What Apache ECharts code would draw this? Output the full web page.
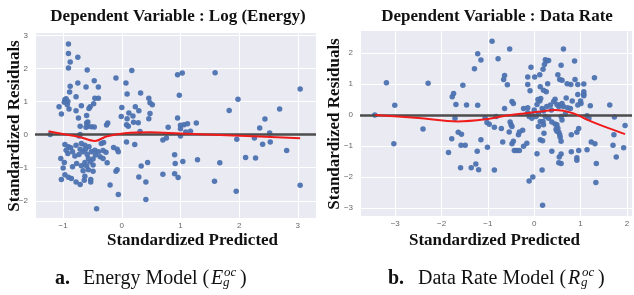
<!DOCTYPE html>
<html>
<head>
<meta charset="utf-8">
<script src="https://cdn.jsdelivr.net/npm/echarts@6/dist/echarts.min.js"></script>
<style>
  html, body { margin: 0; padding: 0; background: #fff; }
  #chart { width: 634px; height: 295px; }
</style>
</head>
<body>
<div id="chart"></div>
<script>
// colours
const PANEL_BG = '#EAEAF2';
const DOT_COLOR = '#4C72B0';
const LOWESS_COLOR = '#f01c1c';
const ZERO_COLOR = '#4d4d4d';
const SERIF = '"Liberation Serif", "Times New Roman", serif';

// a. Energy model : standardized predicted vs standardized residuals
const energyPoints = [
  [-0.91, 2.74], [-0.91, 2.45], [-0.75, 2.34], [-0.88, 2.19], [-0.91, 2.01], [-0.59, 1.95],
  [-0.88, 1.46], [-0.75, 1.56], [-0.47, 1.63], [-0.61, 1.44], [-0.40, 1.44], [-0.89, 1.29],
  [-0.78, 1.14], [-0.46, 1.10], [-0.40, 1.10], [-0.97, 1.05], [-0.95, 1.08], [-0.92, 1.00],
  [-0.98, 0.98], [-1.07, 0.84], [-0.93, 0.90], [-0.90, 0.77], [-1.03, 0.62], [-0.78, 0.72],
  [-0.69, 0.87], [-0.54, 0.84], [-0.56, 0.79], [-0.48, 0.93], [-0.74, 0.50], [-0.60, 0.58],
  [-0.58, 0.38], [-0.71, 0.25], [-0.60, 0.35], [-0.58, 0.25], [-0.61, 0.22], [-0.52, 0.24],
  [-0.47, 0.23], [-0.71, 0.00], [-1.22, 0.00], [-0.73, -0.04], [-0.26, 0.29], [-0.24, 0.35],
  [-0.10, 1.71], [0.07, 1.56], [0.17, 1.94], [0.09, 1.23], [0.32, 1.26], [0.00, 0.82],
  [0.23, 0.84], [0.46, 1.10], [0.48, 0.96], [0.52, 0.90], [0.29, 0.72], [0.48, 0.64],
  [0.46, 0.48], [-0.01, 0.55], [0.09, 0.48], [0.19, 0.56], [0.12, 0.65], [0.08, 0.30],
  [0.11, 0.25], [0.20, 0.37], [0.28, 0.36], [0.31, 0.09],
  [0.95, 1.81], [1.03, 1.86], [0.98, 1.19], [1.59, 1.87], [1.98, 1.07], [1.83, 0.73],
  [2.69, 0.77], [3.04, 1.38], [2.44, 0.47], [0.95, 0.50], [2.35, 0.20], [2.52, 0.05],
  [0.79, 0.22], [1.00, 0.28], [1.06, 0.30], [1.12, 0.33], [1.00, 0.18], [1.27, 0.35],
  [1.09, 0.08], [1.17, 0.10], [1.00, -0.04], [0.70, -0.16], [0.76, -0.10], [1.96, -0.14],
  [2.26, -0.10], [2.40, -0.29], [2.53, -0.22], [2.81, -0.48], [0.90, -0.61], [0.91, -0.87],
  [1.04, -0.81], [1.29, -0.76], [1.67, -0.85], [2.11, -0.69], [2.28, -0.71], [0.44, -0.84],
  [0.70, -1.20], [0.90, -1.18], [0.96, -1.30], [1.58, -1.41], [0.41, -1.43], [1.95, -1.71],
  [3.04, -1.53], [0.41, -1.96],
  [-0.97, -0.30], [-0.87, -0.40], [-0.95, -0.47], [-0.91, -0.37], [-0.78, -0.32], [-0.69, -0.27],
  [-0.63, -0.32], [-0.56, -0.37], [-0.71, -0.44], [-0.66, -0.52], [-0.73, -0.60], [-0.59, -0.60],
  [-0.52, -0.52], [-0.46, -0.47], [-0.40, -0.52], [-0.57, -0.72], [-0.49, -0.74], [-0.35, -0.27],
  [-0.31, -0.24], [-0.37, -0.67], [-1.04, -0.72], [-0.98, -0.84], [-1.00, -1.01], [-0.77, -0.87],
  [-0.69, -0.94], [-0.63, -0.84], [-0.54, -0.82], [-0.49, -0.92], [-0.57, -1.06], [-0.66, -1.09],
  [-0.49, -1.11], [-0.97, -1.21], [-0.91, -1.29], [-1.03, -1.36], [-0.86, -1.33], [-0.78, -1.43],
  [-0.71, -1.51], [-0.53, -1.36], [-0.53, -1.43], [-0.63, -1.26], [-0.32, -0.72], [-0.25, -0.85],
  [-0.14, -0.39], [-0.08, -0.44], [-0.06, -0.52], [-0.10, -1.11], [-0.08, -1.06], [-0.20, -1.52],
  [-0.06, -1.81], [-0.43, -2.24], [0.08, -0.22], [0.22, -0.30], [0.29, -1.28], [0.33, -0.95],
  [-0.32, -0.48], [-0.27, -0.53], [-0.84, -0.52], [-0.62, -0.45], [-0.80, -0.65], [-0.45, -0.62],
  [-0.92, -0.57], [-0.60, -0.95], [-0.84, -0.97], [-0.64, -1.38]
];
const energyLowess = [
  [-1.25, 0.10], [-1.00, 0.02], [-0.72, -0.07], [-0.46, -0.19], [-0.25, -0.05], [0.05, 0.04],
  [0.48, 0.07], [1.00, 0.03], [1.90, -0.03], [3.04, -0.11]
];

// b. Data rate model
const ratePoints = [
  [-3.44, 0.00], [-3.19, 1.04], [-3.01, 0.31], [-3.03, -0.93], [-2.29, 1.02], [-2.40, -0.45],
  [-1.85, -1.21], [-1.78, -0.77], [-1.77, 0.59], [-1.74, 0.69], [-1.69, 0.34], [-1.71, -0.11],
  [-1.54, 0.96], [-1.64, -0.56], [-1.57, -0.62], [-1.58, -0.98], [-1.49, -0.98], [-1.46, 0.32],
  [-1.59, -1.70], [-1.36, -1.70], [-1.26, -1.58], [-1.20, -1.77], [-1.23, -1.17], [-1.15, -0.80],
  [-1.22, 0.31], [-1.29, 1.49], [-1.22, 1.97], [-1.15, 1.77], [-1.01, -1.04], [-1.06, -0.09],
  [-1.02, -0.24], [-0.97, -0.30], [-0.91, 2.38], [-0.86, -0.40], [-0.86, -1.78],
  [-0.78, 1.81], [-0.53, 2.13], [-0.64, 1.27], [-0.66, 1.14], [-0.58, 0.97], [-0.48, 0.43],
  [-0.45, 0.37], [-0.64, 0.21], [-0.82, -0.05], [-0.71, -0.44], [-0.52, -0.23], [-0.50, -0.32],
  [-0.48, -0.37], [-0.54, -0.55], [-0.68, -0.87], [-0.48, -0.93], [-0.45, -0.85], [-0.43, -1.15],
  [-0.38, -1.15], [-0.32, -1.15], [-0.34, -0.64], [-0.32, -0.55], [-0.25, -0.49], [-0.23, -1.01],
  [-0.16, -0.91], [-0.11, -2.13], [-0.03, -2.00], [0.17, -1.78], [0.18, -2.91], [0.06, -1.25],
  [-0.14, 1.22], [-0.14, 0.98], [-0.09, 0.78], [0.01, 1.22], [-0.07, 1.54], [0.12, 1.30],
  [0.13, 0.91], [0.19, 1.47], [0.22, 1.63], [0.24, 1.78], [0.27, 1.74], [0.31, 1.76],
  [0.29, 1.01], [0.26, 0.75], [0.20, 0.80], [0.27, 0.27], [0.12, 0.45], [0.14, 0.53],
  [0.08, 0.50], [0.06, 0.34], [0.00, 0.16], [-0.14, 0.23],
  [0.63, 2.13], [0.87, 1.74], [0.58, 1.60], [0.51, 1.30], [0.55, 1.14], [0.60, 1.12],
  [0.71, 1.01], [0.79, 0.98], [0.88, 1.14], [0.94, 0.98], [1.07, 1.00], [1.07, 0.75],
  [1.07, 0.67], [1.07, 0.62], [0.94, 0.66], [1.00, 0.45], [1.01, 0.37], [0.94, 0.32],
  [0.82, 0.45], [0.69, 0.55], [0.60, 0.37], [0.56, 0.32], [0.45, 0.51], [0.42, 0.43],
  [0.35, 0.32], [0.37, 0.16], [0.49, 0.34], [0.53, 0.27], [0.63, 0.27], [0.72, 0.23],
  [0.78, 0.21], [1.21, 0.30], [1.30, 1.20], [1.63, 0.32], [1.73, -0.07], [1.96, -0.34],
  [1.72, -0.64], [1.70, -0.98], [1.77, -1.36], [1.93, -1.06], [1.14, -0.03], [1.18, -0.11],
  [1.23, -0.87], [1.31, -0.93], [1.34, -1.57], [1.33, -2.18], [1.14, -1.12], [0.96, -1.15],
  [0.80, -1.19], [0.92, -1.38], [0.92, -1.46], [0.80, -0.64], [0.92, -0.56], [0.96, -0.44],
  [0.38, -1.17], [0.58, -1.26], [0.54, -1.36], [0.53, -1.54], [0.58, -1.57], [0.13, -0.80],
  [0.18, -0.83], [0.21, -0.59], [0.09, -0.37], [0.20, -0.32], [0.13, -0.21], [0.38, -0.23],
  [0.45, -0.29], [0.49, -0.32], [0.51, -0.43], [0.47, -0.46], [0.49, -0.53], [0.53, -0.56],
  [0.55, -0.64], [0.56, -0.72], [0.58, -0.85], [0.60, -0.16], [0.58, -0.05], [0.67, 0.02],
  [0.31, -0.11], [0.24, -0.05], [0.19, -0.21], [-0.05, -0.11], [-0.14, 0.07], [-0.11, -0.05],
  [0.04, -0.05], [0.09, 0.05], [-0.05, 0.02], [0.17, 0.21], [0.20, 0.13], [-0.23, 0.21]
];
const rateLowess = [
  [-3.43, 0.00], [-2.50, -0.10], [-1.65, -0.21], [-1.05, -0.14], [-0.60, -0.02], [-0.23, 0.05],
  [0.15, 0.11], [0.45, 0.16], [0.85, 0.05], [1.15, -0.16], [1.50, -0.37], [1.96, -0.62]
];

// axis ranges
const energyXRange = [-1.48, 3.31];
const energyYRange = [-2.52, 3.10];
const rateXRange = [-3.76, 2.11];
const rateYRange = [-3.26, 2.74];

const titles = ['Dependent Variable : Log (Energy)', 'Dependent Variable : Data Rate'];
const xName = 'Standardized Predicted';
const yName = 'Standardized Residuals';

const tickFmt = (v) => Number.isInteger(v) ? String(v).replace('-', '\u2212') : '';

const makeX = (gridIndex, range) => ({
  type: 'value',
  gridIndex,
  min: range[0],
  max: range[1],
  axisLine: { show: false },
  axisTick: { show: false },
  axisLabel: {
    color: '#666', fontSize: 8, margin: 4, fontFamily: 'Liberation Sans',
    showMinLabel: false, showMaxLabel: false, formatter: tickFmt
  },
  splitLine: { show: true, lineStyle: { color: '#fff', width: 1 } }
});

const makeY = (gridIndex, range) => ({
  type: 'value',
  gridIndex,
  min: range[0],
  max: range[1],
  axisLine: { show: false },
  axisTick: { show: false },
  axisLabel: {
    color: '#666', fontSize: 8, margin: 7, fontFamily: 'Liberation Sans',
    showMinLabel: false, showMaxLabel: false, formatter: tickFmt
  },
  splitLine: { show: true, lineStyle: { color: '#fff', width: 1 } }
});

const scatter = (idx, data) => ({
  type: 'scatter',
  xAxisIndex: idx,
  yAxisIndex: idx,
  data,
  symbolSize: 5.5,
  itemStyle: { color: DOT_COLOR, opacity: 0.95 },
  z: 3,
  markLine: {
    silent: true,
    symbol: ['none', 'none'],
    label: { show: false },
    lineStyle: { color: ZERO_COLOR, width: 2.5, type: 'solid' },
    data: [{ yAxis: 0 }]
  }
});

const lowess = (idx, data) => ({
  type: 'line',
  xAxisIndex: idx,
  yAxisIndex: idx,
  data,
  smooth: 0.35,
  symbol: 'none',
  lineStyle: { color: LOWESS_COLOR, width: 2 },
  z: 5
});

const txt = (text, x, y, font) => ({
  type: 'text',
  x, y,
  silent: true,
  style: { text, font, fill: '#111', align: 'left', verticalAlign: 'middle' }
});

const centered = (text, x, y, font, rotation) => ({
  type: 'text',
  x, y,
  rotation: rotation || 0,
  silent: true,
  style: { text, font, fill: '#111', align: 'center', verticalAlign: 'middle' }
});

const chart = echarts.init(document.getElementById('chart'));

chart.setOption({
  backgroundColor: '#fff',
  animation: false,
  grid: [
    { left: 35, top: 32, width: 281, height: 186, show: true, backgroundColor: PANEL_BG, borderWidth: 0 },
    { left: 360, top: 30, width: 272, height: 186, show: true, backgroundColor: PANEL_BG, borderWidth: 0 }
  ],
  xAxis: [makeX(0, energyXRange), makeX(1, rateXRange)],
  yAxis: [makeY(0, energyYRange), makeY(1, rateYRange)],
  series: [
    scatter(0, energyPoints),
    lowess(0, energyLowess),
    scatter(1, ratePoints),
    lowess(1, rateLowess)
  ],
  graphic: [
    // panel titles
    centered(titles[0], 178, 16.5, 'bold 17px ' + SERIF),
    centered(titles[1], 497, 16.5, 'bold 17px ' + SERIF),
    // axis names
    centered(yName, 15, 126, 'bold 17px ' + SERIF, Math.PI / 2),
    centered(yName, 335, 124, 'bold 17px ' + SERIF, Math.PI / 2),
    centered(xName, 192.5, 241, 'bold 17px ' + SERIF),
    centered(xName, 494.5, 241, 'bold 17px ' + SERIF),
    // caption a
    txt('a.', 55, 278.5, 'bold 20px ' + SERIF),
    txt('Energy Model (', 83, 278.5, '20px ' + SERIF),
    txt('E', 211, 278.5, 'italic 20px ' + SERIF),
    txt('oc', 224, 272.5, 'italic 13px ' + SERIF),
    txt('g', 223, 283, 'italic 13px ' + SERIF),
    txt(')', 240, 278.5, '20px ' + SERIF),
    // caption b
    txt('b.', 388, 278.5, 'bold 20px ' + SERIF),
    txt('Data Rate Model (', 418, 278.5, '20px ' + SERIF),
    txt('R', 568, 278.5, 'italic 20px ' + SERIF),
    txt('oc', 582, 272.5, 'italic 13px ' + SERIF),
    txt('g', 581, 283, 'italic 13px ' + SERIF),
    txt(')', 598, 278.5, '20px ' + SERIF)
  ]
});

window.addEventListener('resize', () => chart.resize());
</script>
</body>
</html>
